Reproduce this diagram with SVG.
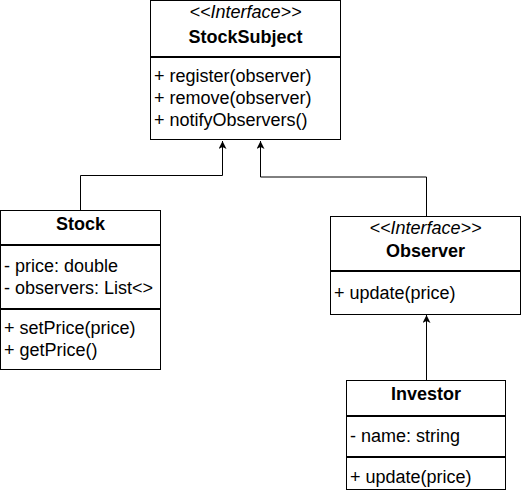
<svg xmlns="http://www.w3.org/2000/svg" width="521" height="491" viewBox="0 0 521 491">
<style>
.box{fill:#fff;stroke:#000;stroke-width:1}
.sep{stroke:#000;stroke-width:2}
text{font-family:"Liberation Sans",Arial,sans-serif;font-size:18px;fill:#000}
.st{font-style:italic;text-anchor:middle}
.nm{font-weight:bold;text-anchor:middle}
.ln{fill:none;stroke:#000;stroke-width:1}
</style>
<defs>
<marker id="arr" viewBox="0 0 10 10" refX="10" refY="5" markerWidth="8" markerHeight="8" markerUnits="userSpaceOnUse" orient="auto">
<path d="M0,0 L10,5 L0,10 L2.5,5 Z" fill="#000"/>
</marker>
</defs>
<rect width="521" height="491" fill="#fff"/>
<g id="connectors">
<path class="ln" d="M80.5,210 V175.5 H222.5 V141" marker-end="url(#arr)"/>
<path class="ln" d="M426.5,216 V177 H260.5 V141" marker-end="url(#arr)"/>
<path class="ln" d="M426.5,380 V315" marker-end="url(#arr)"/>
</g>
<g id="StockSubject">
<rect class="box" x="150.5" y="0.5" width="190" height="139"/>
<line class="sep" x1="150.5" y1="57" x2="340.5" y2="57"/>
<text class="st" x="245.5" y="18">&lt;&lt;Interface&gt;&gt;</text>
<text class="nm" x="245.5" y="43">StockSubject</text>
<text x="154" y="82">+ register(observer)</text>
<text x="154" y="104">+ remove(observer)</text>
<text x="154" y="126">+ notifyObservers()</text>
</g>
<g id="Stock">
<rect class="box" x="0.5" y="210.5" width="160" height="159"/>
<line class="sep" x1="0.5" y1="245" x2="160.5" y2="245"/>
<line class="sep" x1="0.5" y1="309" x2="160.5" y2="309"/>
<text class="nm" x="80.5" y="230">Stock</text>
<text x="4" y="272">- price: double</text>
<text x="4" y="294">- observers: List&lt;&gt;</text>
<text x="4" y="334">+ setPrice(price)</text>
<text x="4" y="356">+ getPrice()</text>
</g>
<g id="Observer">
<rect class="box" x="330.5" y="216.5" width="190" height="98"/>
<line class="sep" x1="330.5" y1="271" x2="520.5" y2="271"/>
<text class="st" x="425.5" y="234">&lt;&lt;Interface&gt;&gt;</text>
<text class="nm" x="425.5" y="257">Observer</text>
<text x="334" y="299">+ update(price)</text>
</g>
<g id="Investor">
<rect class="box" x="346.5" y="380.5" width="159" height="109"/>
<line class="sep" x1="346.5" y1="416" x2="505.5" y2="416"/>
<line class="sep" x1="346.5" y1="457" x2="505.5" y2="457"/>
<text class="nm" x="426" y="400">Investor</text>
<text x="350" y="442">- name: string</text>
<text x="350" y="483">+ update(price)</text>
</g>
</svg>
